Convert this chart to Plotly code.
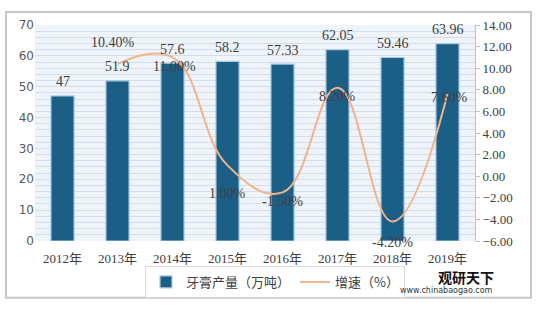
import plotly.graph_objects as go

years = ["2012年", "2013年", "2014年", "2015年", "2016年", "2017年", "2018年", "2019年"]
output = [47, 51.9, 57.6, 58.2, 57.33, 62.05, 59.46, 63.96]
growth_years = ["2013年", "2014年", "2015年", "2016年", "2017年", "2018年", "2019年"]
growth = [10.40, 11.00, 1.00, -1.50, 8.20, -4.20, 7.60]
growth_labels = ["10.40%", "11.00%", "1.00%", "-1.50%", "8.20%", "-4.20%", "7.60%"]
left_ticks = [0, 10, 20, 30, 40, 50, 60, 70]
right_ticks = [-6, -4, -2, 0, 2, 4, 6, 8, 10, 12, 14]

# label offsets (pixels) for the growth labels: style only
label_dx = [-5, 2, 0, 0, 0, 0, 2]
label_dy = [21, -9, -28, -9, -9, -21, -3]

W, H = 537, 309
L, R, T, B = 35, 62, 25, 67
pw, ph = W - L - R, H - T - B

def px(x):
    return (x - L) / pw

def py(y):
    return (H - B - y) / ph

serif = "Liberation Serif, DejaVu Serif, serif"
cjk = "Noto Sans CJK SC"
tcol = "#404040"

fig = go.Figure()
fig.add_trace(go.Bar(
    x=years, y=output, name="牙膏产量（万吨）",
    marker=dict(color="#1C5F86", line=dict(color="#A9CBE3", width=1.2)),
))
fig.add_trace(go.Scatter(
    x=growth_years, y=growth, name="增速（%）", yaxis="y2",
    mode="lines", line=dict(color="#F2B48A", width=2, shape="spline", smoothing=1.2),
))

annotations = []
for xv, yv in zip(years, output):
    annotations.append(dict(x=xv, y=yv, xref="x", yref="y", text=f"{yv:g}",
                            showarrow=False, yanchor="middle", yshift=14,
                            font=dict(family=serif, size=14, color=tcol)))
for xv, yv, t, dx, dy in zip(growth_years, growth, growth_labels, label_dx, label_dy):
    annotations.append(dict(x=xv, y=yv, xref="x", yref="y2", text=t,
                            showarrow=False, yanchor="middle", yshift=dy, xshift=dx,
                            font=dict(family=serif, size=14, color=tcol)))
annotations += [
    dict(text="<b>观研天下</b>", x=px(466), y=py(278), xref="paper", yref="paper",
         xanchor="center", yanchor="middle",
         showarrow=False, font=dict(family=cjk, size=14, color="#111111")),
    dict(text="www.chinabaogao.com", x=px(398), y=py(292), xref="paper", yref="paper",
         xanchor="left", yanchor="middle",
         showarrow=False, font=dict(family="DejaVu Sans", size=8, color="#333333")),
]

fig.update_layout(
    width=W, height=H,
    margin=dict(l=L, r=R, t=T, b=B),
    paper_bgcolor="white",
    plot_bgcolor="#EEF4FA",
    bargap=0.58,
    showlegend=True,
    legend=dict(orientation="h", x=px(145), y=py(282), xanchor="left", yanchor="middle",
                font=dict(family=cjk, size=13, color=tcol),
                bordercolor="#D9D9D9", borderwidth=1, bgcolor="rgba(255,255,255,0.9)",
                itemwidth=30, tracegroupgap=0),
    xaxis=dict(tickfont=dict(family=serif + ", " + cjk, size=13, color=tcol),
               showgrid=False, showline=False, ticks="", ticklabelstandoff=8),
    yaxis=dict(range=[0, 70], tickvals=left_ticks, showgrid=True, gridcolor="#D3DEEA",
               gridwidth=1,
               minor=dict(dtick=2, showgrid=True, gridcolor="#D3DEEA", gridwidth=1),
               tickfont=dict(family="DejaVu Sans", size=12, color="#595959"),
               zeroline=False, showline=False),
    yaxis2=dict(range=[-6, 14], tickvals=right_ticks, overlaying="y", side="right",
                showgrid=False, zeroline=False, ticksuffix="%", tickformat=".2f",
                tickfont=dict(family=serif, size=13, color=tcol),
                showline=True, linecolor="#BFBFBF", ticks="outside", ticklen=4,
                tickcolor="#BFBFBF"),
    shapes=[dict(type="rect", xref="paper", yref="paper",
                 x0=px(6), x1=px(531), y0=py(299), y1=py(12),
                 line=dict(color="#C8C8C8", width=2), fillcolor="rgba(0,0,0,0)", layer="below")],
    annotations=annotations,
)

fig.write_html("out.html")
